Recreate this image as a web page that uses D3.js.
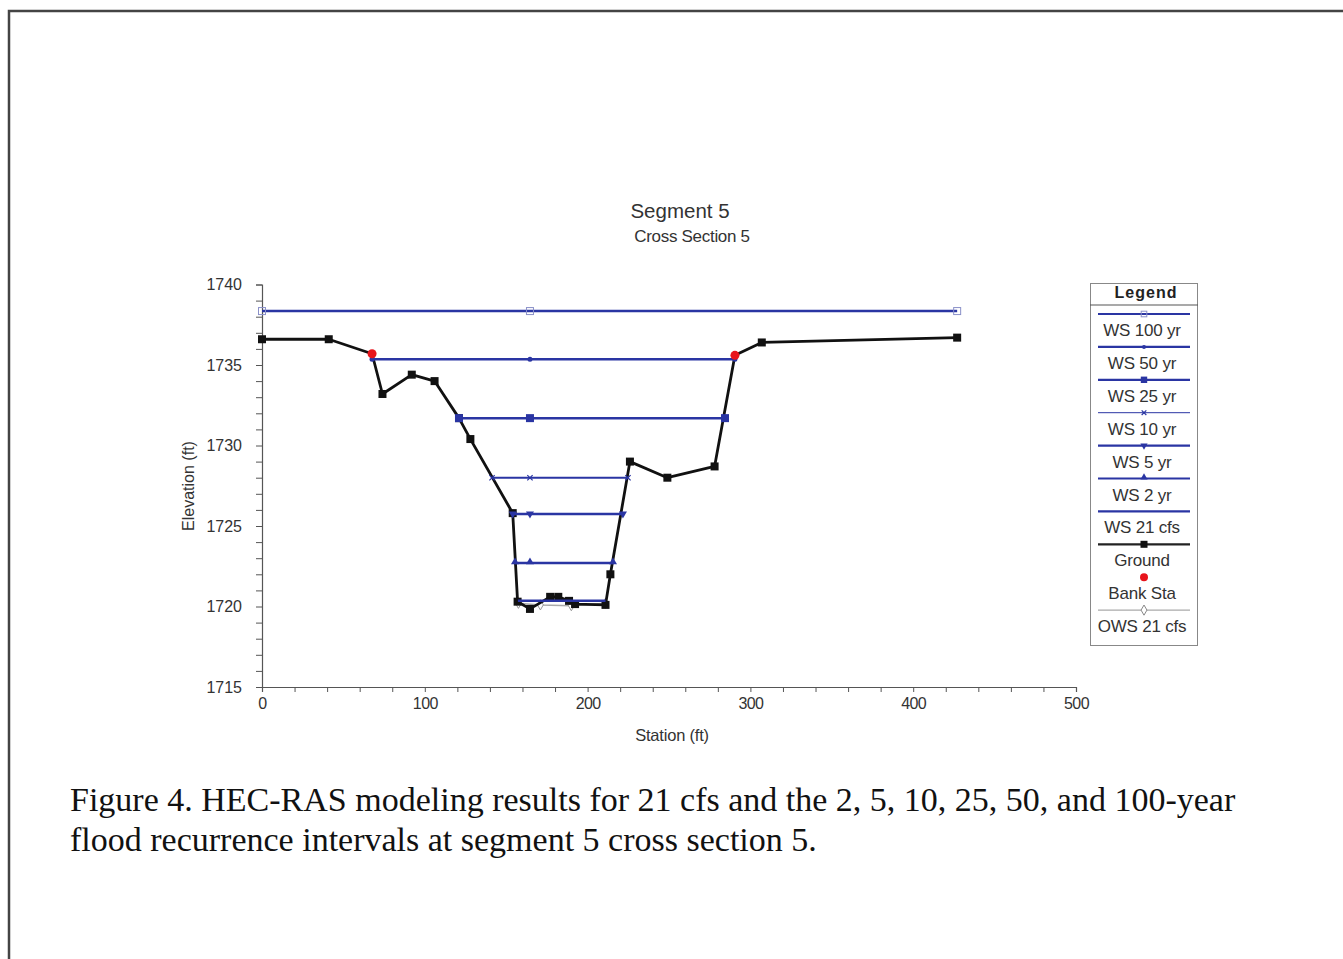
<!DOCTYPE html>
<html><head><meta charset="utf-8">
<script src="https://cdn.jsdelivr.net/npm/d3@7"></script>
<style>body{margin:0;background:#fff}svg{display:block}</style>
</head><body>
<svg id="c" width="1343" height="959"></svg>
<script>
// ---- data ----
const groundSta  = [0, 41, 67.6, 74, 92, 106, 121, 128, 154, 157, 164.6, 177, 182, 188.6, 192.3, 211, 214, 226, 249, 278, 290.5, 307, 427];
const groundElev = [1736.6, 1736.6, 1735.7, 1733.2, 1734.4, 1734.0, 1731.7, 1730.4, 1725.8, 1720.3, 1719.85, 1720.6, 1720.6, 1720.35, 1720.15, 1720.1, 1722.0, 1729.0, 1728.0, 1728.7, 1735.6, 1736.4, 1736.7];
const bankSta  = [67.6, 290.5];
const bankElev = [1735.7, 1735.6];
const wsNames = ["WS 100 yr", "WS 50 yr", "WS 25 yr", "WS 10 yr", "WS 5 yr", "WS 2 yr", "WS 21 cfs"];
const wsElev  = [1738.35, 1735.35, 1731.7, 1728.0, 1725.75, 1722.7, 1720.35];
const wsLeft  = [0, 67.6, 121, 141.3, 154, 155.4, 157.2];
const wsRight = [427, 290.5, 284.4, 224.8, 221.7, 215.6, 211];
const wsMid = 164.6;
const owsSta  = [157.5, 171, 190, 211];
const owsElev = [1720.2, 1720.1, 1720.05, 1720.2];
const xTicks = [0, 100, 200, 300, 400, 500];
const yTicks = [1715, 1720, 1725, 1730, 1735, 1740];
const legendLabels = ["WS 100 yr", "WS 50 yr", "WS 25 yr", "WS 10 yr", "WS 5 yr", "WS 2 yr", "WS 21 cfs", "Ground", "Bank Sta", "OWS 21 cfs"];

const blue = "#2a35a3";
const sans = "Liberation Sans, Arial";
const svg = d3.select("#c");
const x = d3.scaleLinear().domain([0, 500]).range([262, 1076]);
const y = d3.scaleLinear().domain([1715, 1740]).range([687, 284.5]);

// page border
svg.append("path").attr("d", "M9,959V11H1343").attr("fill", "none").attr("stroke", "#444").attr("stroke-width", 2.5);

// titles
svg.append("text").attr("x", 680).attr("y", 218).attr("text-anchor", "middle")
  .attr("font-family", sans).attr("font-size", 20.5).attr("fill", "#333").text("Segment 5");
svg.append("text").attr("x", 692).attr("y", 242).attr("text-anchor", "middle")
  .attr("font-family", sans).attr("font-size", 17).attr("fill", "#333").attr("letter-spacing", -0.3).text("Cross Section 5");

// axes
const gx = svg.append("g").attr("transform", "translate(0,687)")
  .call(d3.axisBottom(x).tickValues(d3.range(0, 501, 20)).tickSize(5).tickFormat(d => xTicks.includes(d) ? d : ""));
const gy = svg.append("g").attr("transform", "translate(262,0)")
  .call(d3.axisLeft(y).tickValues(d3.range(1715, 1741, 1)).tickSize(6).tickFormat(d => yTicks.includes(d) ? d : ""));
[gx, gy].forEach(g => {
  g.select(".domain").attr("stroke", "#555").attr("stroke-width", 1.2);
  g.selectAll(".tick line").attr("stroke", "#555");
  g.selectAll("text").attr("font-family", sans).attr("font-size", 16).attr("fill", "#333");
});
gx.selectAll("text").attr("dy", "0.85em").attr("letter-spacing", -0.6);
gy.selectAll("text").attr("x", -20);

svg.append("text").attr("x", 672).attr("y", 741).attr("text-anchor", "middle")
  .attr("font-family", sans).attr("font-size", 16.5).attr("fill", "#333").attr("letter-spacing", -0.2).text("Station (ft)");
svg.append("text").attr("transform", "translate(194,486) rotate(-90)").attr("text-anchor", "middle")
  .attr("font-family", sans).attr("font-size", 16).attr("fill", "#333").text("Elevation (ft)");

// marker helper
function marker(g, kind, cx, cy, scale) {
  scale = scale || 1;
  if (kind === 0) { // open square
    g.append("rect").attr("x", cx - 3.5*scale).attr("y", cy - 3.5*scale).attr("width", 7*scale).attr("height", 7*scale)
      .attr("fill", "none").attr("stroke", "#8a90c8").attr("stroke-width", 1);
  } else if (kind === 1) {
    g.append("circle").attr("cx", cx).attr("cy", cy).attr("r", 2.5*scale).attr("fill", blue);
  } else if (kind === 2) {
    g.append("rect").attr("x", cx - 4*scale).attr("y", cy - 4*scale).attr("width", 8*scale).attr("height", 8*scale).attr("fill", blue);
  } else if (kind === 3) {
    g.append("path").attr("transform", `translate(${cx},${cy}) rotate(90)`).attr("d", d3.symbol(d3.symbolX, 20*scale)())
      .attr("fill", "none").attr("stroke", blue).attr("stroke-width", 1.2);
  } else if (kind === 4) {
    g.append("path").attr("transform", `translate(${cx},${cy}) rotate(180)`).attr("d", d3.symbol(d3.symbolTriangle, 28*scale)()).attr("fill", blue);
  } else if (kind === 5) {
    g.append("path").attr("transform", `translate(${cx},${cy-1})`).attr("d", d3.symbol(d3.symbolTriangle, 28*scale)()).attr("fill", blue);
  }
}

const plot = svg.append("g");
// OWS
plot.append("path").datum(owsSta.map((s, i) => [s, owsElev[i]]))
  .attr("d", d3.line().x(d => x(d[0])).y(d => y(d[1])))
  .attr("fill", "none").attr("stroke", "#aaa").attr("stroke-width", 1.5);
owsSta.forEach((s, i) => {
  plot.append("path").attr("transform", `translate(${x(s)},${y(owsElev[i])})`)
    .attr("d", d3.symbol(d3.symbolDiamond, 30)()).attr("fill", "#fff").attr("stroke", "#999").attr("stroke-width", 1);
});

// ground
plot.append("path").datum(groundSta.map((s, i) => [s, groundElev[i]]))
  .attr("d", d3.line().x(d => x(d[0])).y(d => y(d[1])))
  .attr("fill", "none").attr("stroke", "#111").attr("stroke-width", 2.8).attr("stroke-linejoin", "round");
groundSta.forEach((s, i) => {
  if (bankSta.includes(s)) return;
  plot.append("rect").attr("x", x(s) - 4).attr("y", y(groundElev[i]) - 4).attr("width", 8).attr("height", 8).attr("fill", "#111");
});

// water surfaces
wsNames.forEach((n, i) => {
  const yy = y(wsElev[i]);
  plot.append("line").attr("x1", x(wsLeft[i])).attr("x2", x(wsRight[i])).attr("y1", yy).attr("y2", yy)
    .attr("stroke", blue).attr("stroke-width", i === 3 ? 2 : 2.5);
  if (i < 6) [wsLeft[i], wsMid, wsRight[i]].forEach(s => marker(plot, i, x(s), yy));
});

// bank stations
bankSta.forEach((s, i) => {
  plot.append("circle").attr("cx", x(s)).attr("cy", y(bankElev[i])).attr("r", 4.5).attr("fill", "#e8141c");
});

// legend
const lg = svg.append("g");
lg.append("rect").attr("x", 1090.5).attr("y", 283.5).attr("width", 107).attr("height", 362)
  .attr("fill", "#fff").attr("stroke", "#888").attr("stroke-width", 1);
lg.append("line").attr("x1", 1090).attr("x2", 1198).attr("y1", 305).attr("y2", 305).attr("stroke", "#555").attr("stroke-width", 1.2);
lg.append("text").attr("x", 1146).attr("y", 298).attr("text-anchor", "middle")
  .attr("font-family", sans).attr("font-size", 16).attr("font-weight", "bold").attr("fill", "#222")
  .attr("letter-spacing", 1).text("Legend");
legendLabels.forEach((lab, i) => {
  const ly = 314 + i * 32.9;
  const mx = 1144;
  if (i < 7) {
    lg.append("line").attr("x1", 1098).attr("x2", 1190).attr("y1", ly).attr("y2", ly)
      .attr("stroke", blue).attr("stroke-width", i === 3 ? 1 : 2.2);
    if (i < 6) marker(lg, i, mx, ly, 0.8);
  } else if (i === 7) {
    lg.append("line").attr("x1", 1098).attr("x2", 1190).attr("y1", ly).attr("y2", ly).attr("stroke", "#222").attr("stroke-width", 2.2);
    lg.append("rect").attr("x", mx - 3.5).attr("y", ly - 3.5).attr("width", 7).attr("height", 7).attr("fill", "#111");
  } else if (i === 8) {
    lg.append("circle").attr("cx", mx).attr("cy", ly).attr("r", 4).attr("fill", "#e8141c");
  } else {
    lg.append("line").attr("x1", 1098).attr("x2", 1190).attr("y1", ly).attr("y2", ly).attr("stroke", "#aaa").attr("stroke-width", 1.2);
    lg.append("path").attr("transform", `translate(${mx},${ly})`).attr("d", d3.symbol(d3.symbolDiamond, 30)())
      .attr("fill", "#fff").attr("stroke", "#888").attr("stroke-width", 1);
  }
  lg.append("text").attr("x", 1142).attr("y", ly + 22).attr("text-anchor", "middle")
    .attr("font-family", sans).attr("font-size", 17).attr("fill", "#333").attr("letter-spacing", -0.2).text(lab);
});

// caption
const cap = svg.append("g").attr("font-family", "Liberation Serif, Times New Roman").attr("font-size", 34).attr("fill", "#111");
cap.append("text").attr("x", 70).attr("y", 811).text("Figure 4. HEC-RAS modeling results for 21 cfs and the 2, 5, 10, 25, 50, and 100-year");
cap.append("text").attr("x", 70).attr("y", 851).text("flood recurrence intervals at segment 5 cross section 5.");
</script>
</body></html>
